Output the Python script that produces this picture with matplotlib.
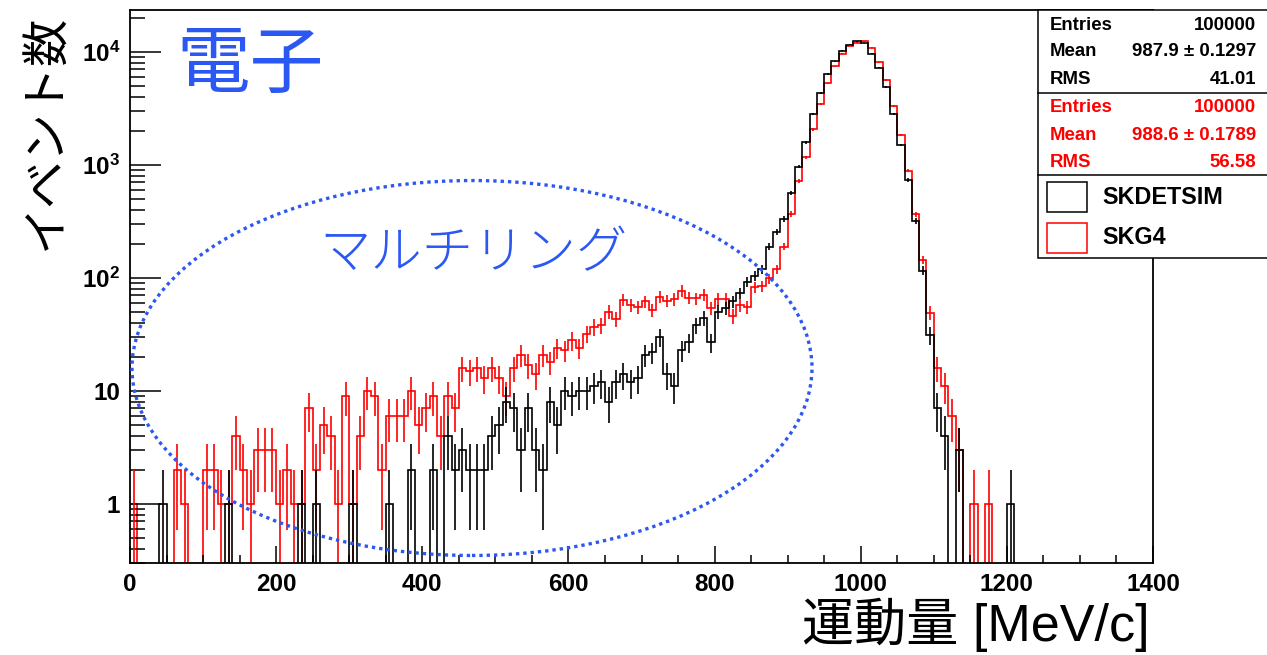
"""
SKDETSIM vs SKG4 電子の運動量分布（対数スケール）
"""

import numpy as np
import matplotlib.pyplot as plt
from matplotlib.patches import Ellipse, Rectangle
from matplotlib.ticker import FixedLocator, MultipleLocator, LogLocator, NullFormatter

W, H = 1267, 655

# 10 MeV/c 幅のビン (0 - 1400)
bin_edges = np.arange(0, 1401, 10)

# SKDETSIM（黒）
skdetsim = [
    0, 0, 0, 0, 1, 0, 0, 0, 0, 0,
    0, 0, 0, 1, 0, 0, 0, 0, 0, 0,
    0, 0, 0, 1, 0, 1, 0, 0, 0, 0,
    1, 0, 0, 0, 0, 1, 0, 0, 2, 0,
    0, 2, 0, 4, 2, 3, 2, 2, 2, 4,
    5, 8, 7, 3, 7, 3, 2, 8, 5, 10,
    9, 10, 10, 11, 12, 8, 12, 14, 12, 13,
    21, 22, 30, 14, 11, 23, 27, 38, 44, 27,
    50, 54, 62, 73, 92, 104, 119, 189, 256, 333,
    560, 964, 1585, 2800, 4350, 6380, 8300, 10200, 11600, 12400,
    12000, 9600, 7240, 4900, 2820, 1500, 735, 320, 116, 31,
    7, 4, 0, 3, 0, 0, 0, 0, 0, 0,
    1, 0, 0, 0, 0, 0, 0, 0, 0, 0,
    0, 0, 0, 0, 0, 0, 0, 0, 0, 0,
]

# SKG4（赤）
skg4 = [
    1, 0, 0, 0, 0, 0, 2, 1, 0, 0,
    2, 2, 1, 1, 4, 2, 1, 3, 3, 3,
    1, 2, 1, 1, 7, 2, 5, 4, 1, 9,
    1, 4, 10, 9, 2, 6, 6, 6, 10, 5,
    7, 9, 4, 9, 7, 16, 15, 16, 13, 16,
    13, 9, 16, 21, 17, 14, 21, 18, 24, 23,
    28, 24, 32, 37, 38, 50, 43, 64, 58, 55,
    62, 52, 68, 63, 65, 77, 67, 66, 71, 54,
    65, 65, 46, 58, 55, 83, 84, 99, 119, 189,
    368, 725, 1170, 2060, 3470, 5280, 7440, 9600, 11300, 12100,
    12400, 10900, 8100, 5660, 3340, 1840, 890, 367, 144, 49,
    16, 11, 6, 3, 0, 1, 0, 1, 0, 0,
    0, 0, 0, 0, 0, 0, 0, 0, 0, 0,
    0, 0, 0, 0, 0, 0, 0, 0, 0, 0,
]

stats_black = [("Entries", "100000"), ("Mean", "987.9 ± 0.1297"), ("RMS", "41.01")]
stats_red = [("Entries", "100000"), ("Mean", "988.6 ± 0.1789"), ("RMS", "56.58")]
legend_labels = ["SKDETSIM", "SKG4"]

x_ticks = [0, 200, 400, 600, 800, 1000, 1200, 1400]
y_ticks = [1, 10, 100, 1000, 10000]
y_tick_labels = ["1", "10", r"$\mathbf{10^{2}}$", r"$\mathbf{10^{3}}$", r"$\mathbf{10^{4}}$"]

BLUE = "#2b57f2"
RED = "#ff0000"


def fx(x):
    return x / W


def fy(y):
    return 1 - y / H


def draw_hist(ax, counts, color):
    counts = np.asarray(counts, dtype=float)
    # 空ビンは軸の下まで落とす
    shown = np.where(counts > 0, counts, 1e-3)
    ax.stairs(shown, bin_edges, color=color, lw=1.2, baseline=None)
    centers = 0.5 * (bin_edges[:-1] + bin_edges[1:])
    m = counts > 0
    err = np.sqrt(counts[m])
    lo = counts[m] - np.maximum(counts[m] - err, 1e-3)
    ax.errorbar(centers[m], counts[m], yerr=[lo, err], fmt="none",
                ecolor=color, elinewidth=1.2)


def main():
    plt.rcParams["font.family"] = ["Liberation Sans", "Noto Sans CJK JP", "DejaVu Sans"]
    plt.rcParams["mathtext.fontset"] = "custom"
    plt.rcParams["mathtext.rm"] = "Liberation Sans"
    plt.rcParams["mathtext.bf"] = "Liberation Sans:bold"

    fig = plt.figure(figsize=(W / 100, H / 100), dpi=100)
    ax = fig.add_axes([fx(130), 1 - 563 / H, 1023 / W, 553 / H])

    draw_hist(ax, skg4, RED)
    draw_hist(ax, skdetsim, "black")

    ax.set_yscale("log")
    ax.set_xlim(0, 1400)
    ax.set_ylim(0.3, 2.35e4)

    ax.xaxis.set_major_locator(FixedLocator(x_ticks))
    ax.xaxis.set_minor_locator(MultipleLocator(50))
    ax.set_xticklabels([str(t) for t in x_ticks])
    ax.yaxis.set_major_locator(FixedLocator(y_ticks))
    ax.yaxis.set_minor_locator(LogLocator(base=10, subs=np.arange(2, 10)))
    ax.yaxis.set_minor_formatter(NullFormatter())
    ax.set_yticklabels(y_tick_labels)

    for lab in ax.get_xticklabels() + ax.get_yticklabels():
        lab.set_fontweight("bold")
        lab.set_fontsize(17.5)

    ax.tick_params(axis="x", which="major", direction="in", length=12, width=1.1, pad=7)
    ax.tick_params(axis="x", which="minor", direction="in", length=6, width=1.1)
    ax.tick_params(axis="y", which="major", direction="in", length=22, width=1.1, pad=7)
    ax.tick_params(axis="y", which="minor", direction="in", length=11, width=1.1)
    for sp in ax.spines.values():
        sp.set_linewidth(1.3)

    # マルチリングを囲む楕円
    ell = Ellipse((0.3343, 0.3526), 0.6647, 0.678, transform=ax.transAxes,
                  fill=False, edgecolor=BLUE, lw=2.4, linestyle=(0, (1, 1.2)),
                  clip_on=False, zorder=4)
    ell.set_capstyle("butt")
    ax.add_patch(ell)

    cjk = ["Noto Sans CJK JP", "DejaVu Sans"]
    fig.text(fx(176), fy(66), "電子", color=BLUE, fontsize=53, family=cjk,
             ha="left", va="center")
    fig.text(fx(473), fy(254), "マルチリング", color=BLUE, fontsize=37,
             family=cjk, fontweight="light", ha="center", va="center")

    # 軸ラベル
    fig.text(fx(46), fy(14), "イベント数", rotation=90, fontsize=34, family=cjk,
             ha="center", va="top")
    fig.text(fx(1150), fy(641), "運動量 [MeV/c]", fontsize=37.5,
             family=["Liberation Sans", "Noto Sans CJK JP"],
             ha="right", va="baseline")

    # 統計ボックス + 凡例
    box = Rectangle((fx(1038), fy(258)), (1275 - 1038) / W, (258 - 10) / H,
                    transform=fig.transFigure, facecolor="white",
                    edgecolor="black", lw=1.1, zorder=5)
    fig.add_artist(box)
    for yy in (92.5, 175):
        fig.add_artist(plt.Line2D([fx(1038), fx(1275)], [fy(yy), fy(yy)],
                                  transform=fig.transFigure, color="black",
                                  lw=1.1, zorder=6))

    rows_y = [25, 52, 79, 107, 135, 163]
    rows = [(k, v, "black") for k, v in stats_black] + [(k, v, RED) for k, v in stats_red]
    for (key, val, col), yy in zip(rows, rows_y):
        fig.text(fx(1050), fy(yy), key, color=col, fontsize=13.4,
                 fontweight="bold", ha="left", va="center", zorder=7)
        fig.text(fx(1256), fy(yy), val, color=col, fontsize=13.4,
                 fontweight="bold", ha="right", va="center", zorder=7)

    for label, col, top in zip(legend_labels, ["black", RED], [182, 223]):
        fig.add_artist(Rectangle((fx(1047), fy(top + 30)), 40 / W, 30 / H,
                                 transform=fig.transFigure, fill=False,
                                 edgecolor=col, lw=1.1, zorder=7))
        fig.text(fx(1102), fy(top + 15), label, fontsize=16.8, fontweight="bold",
                 ha="left", va="center", zorder=7)

    fig.savefig("out.png", dpi=100)


if __name__ == "__main__":
    main()
